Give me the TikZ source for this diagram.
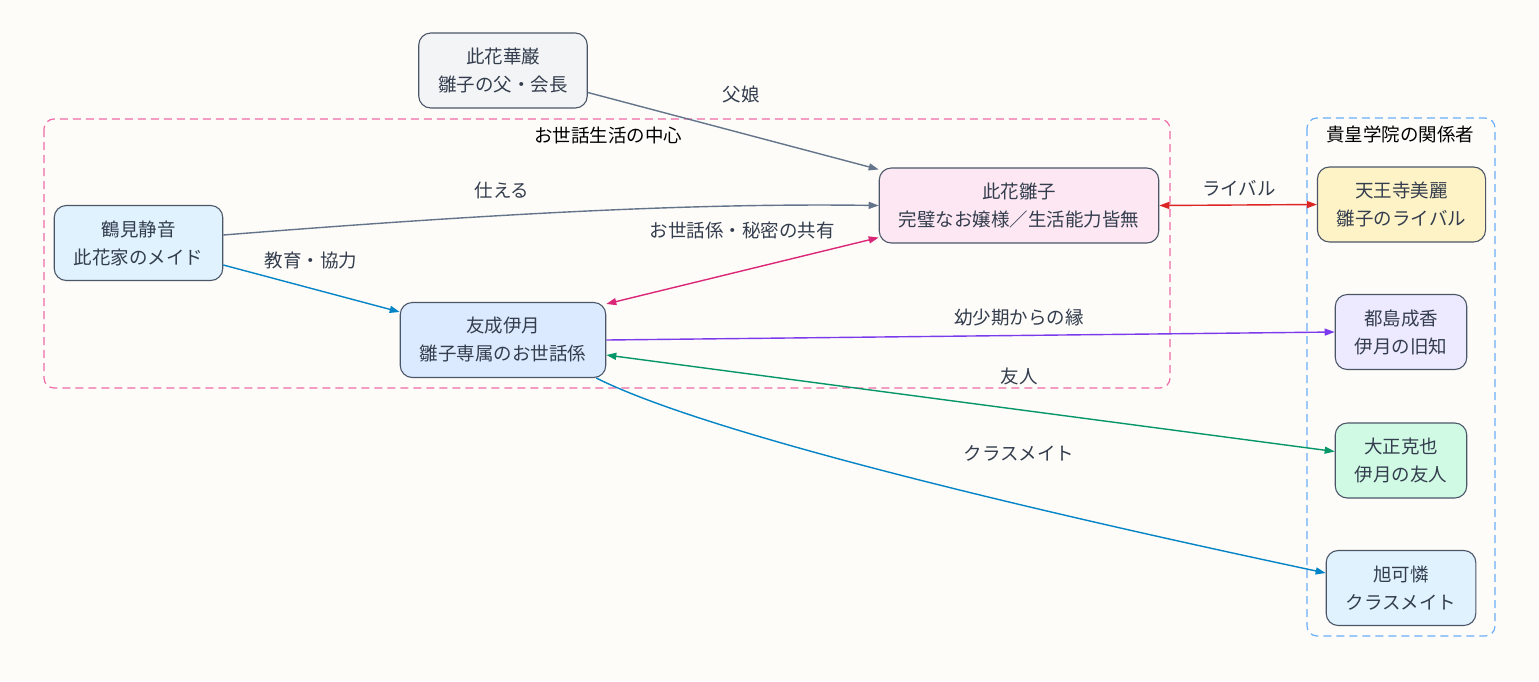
\documentclass[tikz,border=0pt]{standalone}
\usepackage{fontspec}
\usepackage{xcolor}
\usepackage{tikz}
\usetikzlibrary{arrows.meta}
\setmainfont{Noto Sans CJK JP}

\definecolor{bgcream}{HTML}{FDFCF8}
\definecolor{nodeline}{HTML}{4B5768}
\definecolor{inktext}{HTML}{333D4D}
\definecolor{edgegray}{HTML}{64748B}
\definecolor{edgeblue}{HTML}{0284C7}
\definecolor{edgepink}{HTML}{DB2777}
\definecolor{edgered}{HTML}{DC2626}
\definecolor{edgepurple}{HTML}{7C3AED}
\definecolor{edgegreen}{HTML}{059669}
\definecolor{grouppink}{HTML}{F06BA8}
\definecolor{groupblue}{HTML}{6AAEF8}
\definecolor{fillgray}{HTML}{F3F4F6}
\definecolor{fillsky}{HTML}{E0F2FE}
\definecolor{fillblue}{HTML}{DBEAFE}
\definecolor{fillpink}{HTML}{FCE7F3}
\definecolor{fillyellow}{HTML}{FEF3C7}
\definecolor{fillviolet}{HTML}{EDE9FE}
\definecolor{fillgreen}{HTML}{D1FAE5}

\begin{document}
\begin{tikzpicture}[x=1pt,y=-1pt,
  person/.style={draw=nodeline, line width=1.1pt, rounded corners=12pt, align=center,
    text=inktext, minimum height=75pt, inner xsep=19.5pt,
    font=\fontsize{18.5}{28}\selectfont},
  rel/.style={line width=1.4pt, -{Triangle[length=10pt,width=7pt]}},
  relboth/.style={line width=1.4pt, {Triangle[length=10pt,width=7pt]}-{Triangle[length=10pt,width=7pt]}},
  rellabel/.style={text=inktext, font=\fontsize{18.5}{22}\selectfont},
  group/.style={line width=1.2pt, dash pattern=on 8pt off 5pt, rounded corners=10pt}]

\fill[bgcream] (0,0) rectangle (1539,681);
\useasboundingbox (0,0) rectangle (1539,681);

\draw[group, grouppink] (44,119) rectangle (1170,388);
\draw[group, groupblue] (1307,118) rectangle (1495,636);
\node[font=\fontsize{18.5}{22}\selectfont] (care) at (608,135) {お世話生活の中心};
\node[font=\fontsize{18.5}{22}\selectfont] (school) at (1400,134) {貴皇学院の関係者};

\node[person, fill=fillgray] (kagen) at (503,70.5) {此花華巌\\雛子の父・会長};
\node[person, fill=fillsky] (shizune) at (138.5,243) {鶴見静音\\此花家のメイド};
\node[person, fill=fillblue] (itsuki) at (503,340) {友成伊月\\雛子専属のお世話係};
\node[person, fill=fillpink] (hinako) at (1019,205.5) {此花雛子\\完璧なお嬢様／生活能力皆無};
\node[person, fill=fillyellow] (mirei) at (1401.5,204.5) {天王寺美麗\\雛子のライバル};
\node[person, fill=fillviolet] (naruka) at (1401,332) {都島成香\\伊月の旧知};
\node[person, fill=fillgreen] (katsuya) at (1401,460.5) {大正克也\\伊月の友人};
\node[person, fill=fillsky] (karen) at (1401,588) {旭可憐\\クラスメイト};

\draw[rel, edgegray] ([yshift=-22pt]kagen.east) -- ([yshift=-2pt]hinako.north west);
\draw[rel, edgegray] ([yshift=8pt]shizune.east) .. controls (500,213) and (700,203) .. (hinako.west);
\draw[rel, edgeblue] ([yshift=-22pt]shizune.east) -- ([yshift=-10pt]itsuki.north west);
\draw[relboth, edgepink] ([yshift=6pt]hinako.south west) -- ([yshift=-2pt]itsuki.north east);
\draw[relboth, edgered] (hinako.east) -- (mirei.west);
\draw[rel, edgepurple] (itsuki.east) -- (naruka.west);
\draw[relboth, edgegreen] ([yshift=-15pt]itsuki.east) -- ([yshift=9pt]katsuya.west);
\draw[rel, edgeblue] ([xshift=-10pt]itsuki.south east) .. controls (720,440) and (1100,525) .. ([yshift=15pt]karen.west);

\node[rellabel] (father) at (741,94) {父娘};
\node[rellabel] (serve) at (502,190) {仕える};
\node[rellabel] (teach) at (311,260) {教育・協力};
\node[rellabel] (secret) at (742,230) {お世話係・秘密の共有};
\node[rellabel] (rival) at (1239,188) {ライバル};
\node[rellabel] (child) at (1019,317) {幼少期からの縁};
\node[rellabel] (friend) at (1019,376) {友人};
\node[rellabel] (class) at (1019,453) {クラスメイト};

\end{tikzpicture}
\end{document}
